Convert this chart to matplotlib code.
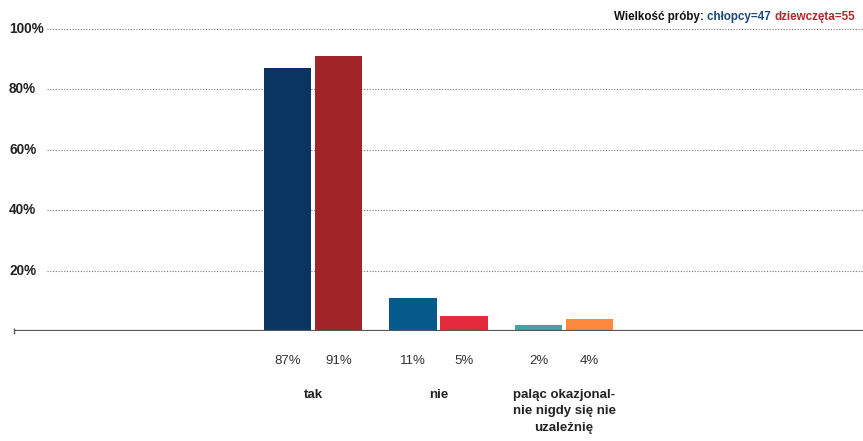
"""Bar chart: smoking survey answers, boys vs girls."""

import matplotlib

matplotlib.use("Agg")
import matplotlib.pyplot as plt
from matplotlib.transforms import blended_transform_factory

categories = ["tak", "nie", "paląc okazjonal-\nnie nigdy się nie\nuzależnię"]
boys = [87, 11, 2]
girls = [91, 5, 4]
boys_colors = ["#0a3461", "#055a8c", "#4a9fa6"]
girls_colors = ["#a12428", "#e32b3b", "#fd8a3c"]
yticks = [20, 40, 60, 80, 100]
ytick_labels = ["20%", "40%", "60%", "80%", "100%"]

W, H = 863, 441
fig = plt.figure(figsize=(W / 100, H / 100), dpi=100)
ax = fig.add_axes([14 / W, (H - 331) / H, 1 - 14 / W, (331 - 29) / H])

width = 0.382
gap = 0.012
xs = range(len(categories))
for i in xs:
    ax.bar(i - width / 2 - gap, boys[i], width, color=boys_colors[i], zorder=3)
    ax.bar(i + width / 2 + gap, girls[i], width, color=girls_colors[i], zorder=3)
    ax.text(i - width / 2 - gap, -9.9, f"{boys[i]}%", ha="center", va="center",
            fontsize=9.5, color="#333333", family="Liberation Sans", clip_on=False)
    ax.text(i + width / 2 + gap, -9.9, f"{girls[i]}%", ha="center", va="center",
            fontsize=9.5, color="#333333", family="Liberation Sans", clip_on=False)
    ax.text(i, -19.2, categories[i], ha="center", va="top", fontsize=9.5,
            fontweight="bold", color="#222222", family="Liberation Sans",
            linespacing=1.5, clip_on=False)

ax.set_xlim((14 - 313) / 125.5, (863 - 313) / 125.5)
ax.set_ylim(0, 100)

grid_start = (47 - 14) / (863 - 14)
for y in yticks:
    ax.axhline(y, xmin=grid_start, color="#777777", lw=0.8, ls=(0, (1, 1.5)), zorder=1)
ax.axhline(0, color="#555555", lw=1.6, zorder=4)
ax.plot([0], [0], marker="|", color="#555555", ms=5, transform=ax.transAxes,
        clip_on=False)

lab_tr = blended_transform_factory(fig.transFigure, ax.transData)
for y, lab in zip(yticks, ytick_labels):
    ax.text(9 / W, y, lab, transform=lab_tr, ha="left", va="center", fontsize=9.8,
            fontweight="bold", color="#222222", family="Liberation Sans")

ax.set_xticks([])
ax.set_yticks([])
for s in ax.spines.values():
    s.set_visible(False)

# sample size note, right-aligned against the figure edge
fig.canvas.draw()
renderer = fig.canvas.get_renderer()
x = 614
for piece, col in [("Wielkość próby: ", "#111111"), ("chłopcy=47 ", "#1b4a7a"),
                   ("dziewczęta=55", "#b02a2a")]:
    t = fig.text(x / W, 1 - 17 / H, piece, ha="left", va="center", fontsize=8.4,
                 fontweight="bold", color=col, family="Liberation Sans")
    x += t.get_window_extent(renderer).width

fig.savefig("out.png", dpi=100)
